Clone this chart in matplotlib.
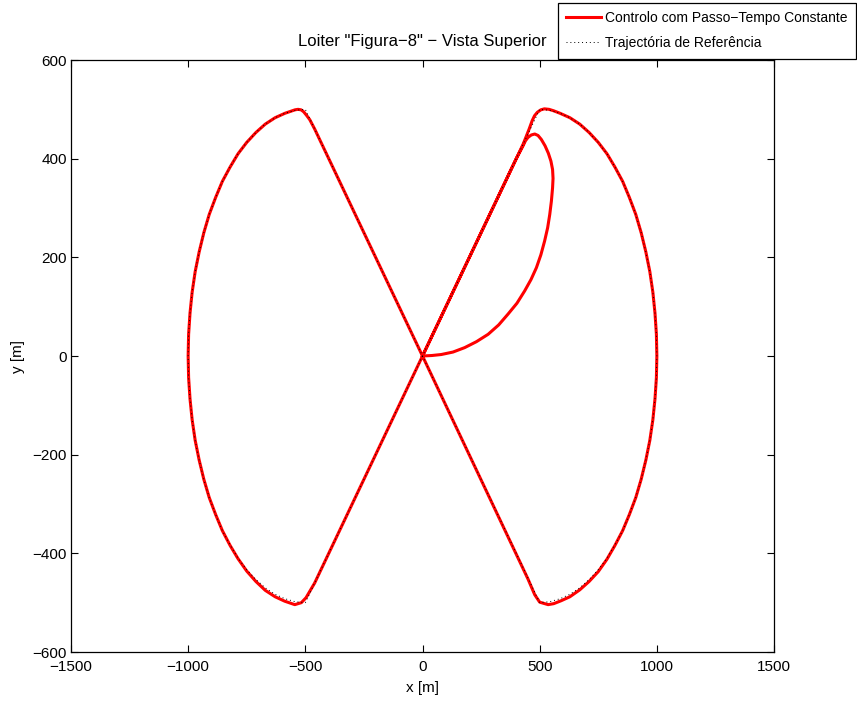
import matplotlib
matplotlib.use("Agg")
import matplotlib.pyplot as plt

plt.rcParams['font.family'] = ['Liberation Sans', 'DejaVu Sans']

arc_dx = [0, 44, 87, 129, 171, 211, 250, 287, 321, 354, 383, 410, 433, 453, 470, 483, 492, 498, 500]
arc_y = [500, 498, 492, 483, 470, 453, 433, 410, 383, 354, 321, 287, 250, 211, 171, 129, 87, 44, 0]

# trajectoria de referencia (figura-8): rectas pela origem + semicirculos laterais
ref_x = ([0] + [-500 - d for d in arc_dx] + [-500 - d for d in arc_dx[-2::-1]] + [0]
         + [500 + d for d in arc_dx] + [500 + d for d in arc_dx[-2::-1]] + [0])
ref_y = ([0] + [-v for v in arc_y] + arc_y[-2::-1] + [0]
         + [-v for v in arc_y] + arc_y[-2::-1] + [0])

# trajectoria voada (controlo com passo de tempo constante)
# transitorio inicial: sai da origem, faz o laco e junta-se a recta
tr_x = [0, 40, 80, 130, 180, 230, 280, 325, 365, 403, 436, 463, 486, 505, 521, 534,
        543, 550, 555, 557, 555, 548, 537, 523, 507, 493, 479, 464, 450, 439, 429]
tr_y = [0, 1, 3, 8, 17, 29, 44, 63, 85, 107, 132, 155, 179, 205, 233, 260,
        287, 314, 341, 360, 378, 395, 411, 426, 439, 447, 450, 448, 443, 436, 426]

# lobulo esquerdo
left_x = [400, 0, -460, -482, -497, -517, -545, -588, -629, -671, -711, -750, -787, -821,
          -854, -883, -910, -933, -953, -970, -983, -992, -998, -1000,
          -998, -992, -983, -970, -953, -933, -910, -883, -854, -821, -787, -750, -711,
          -671, -629, -587, -544, -531, -518, -507, -495, -481, -460, 0]
left_y = [400, 0, -460, -478, -490, -500, -504, -497, -488, -475, -457, -436, -411, -384,
          -354, -321, -287, -250, -211, -171, -129, -87, -44, 0,
          44, 87, 129, 171, 211, 250, 287, 321, 354, 383, 410, 433, 453,
          470, 483, 492, 499, 500, 499, 495, 488, 479, 460, 0]

# lobulo direito
right_x = [0, 450, 479, 500, 536, 560, 592, 629, 671, 711, 750, 787, 821,
           854, 883, 910, 933, 953, 970, 983, 992, 998, 1000,
           998, 992, 983, 970, 953, 933, 910, 883, 854, 821, 787, 750, 711,
           671, 629, 587, 560, 540, 520, 505, 490, 478, 468, 455, 430, 0]
right_y = [0, -452, -484, -499, -504, -502, -496, -488, -474, -457, -437, -412, -384,
           -354, -321, -287, -250, -211, -171, -129, -87, -44, 0,
           44, 87, 129, 171, 211, 250, 287, 321, 354, 383, 410, 433, 453,
           470, 483, 492, 497, 500, 501, 499, 494, 487, 477, 460, 430, 0]

fly_x = tr_x + left_x + right_x
fly_y = tr_y + left_y + right_y

fig = plt.figure(figsize=(8.57, 7.01), dpi=100)
ax = fig.add_axes([0.0828, 0.0699, 0.8204, 0.8445])

h1, = ax.plot(fly_x, fly_y, color='red', linewidth=2.2, solid_joinstyle='round',
              label='Controlo com Passo\u2212Tempo Constante')
h2, = ax.plot(ref_x, ref_y, color='black', linewidth=0.7, linestyle=(0, (1, 3)),
              label='Trajectória de Referência')

ax.set_xlim(-1500, 1500)
ax.set_ylim(-600, 600)
ax.set_xticks(range(-1500, 1501, 500))
ax.set_yticks(range(-600, 601, 200))
ax.tick_params(direction='in', length=5, width=0.8, top=True, right=True,
               labelsize=11)
ax.tick_params(axis='x', pad=6)
ax.tick_params(axis='y', pad=3)
for s in ax.spines.values():
    s.set_linewidth(0.9)

ax.set_xlabel('x [m]', fontsize=11, labelpad=5)
ax.set_ylabel('y [m]', fontsize=11, labelpad=5)
ax.set_title('Loiter "Figura\u22128" \u2212 Vista Superior', fontsize=12, pad=10)

leg = fig.legend(handles=[h1, h2], loc='upper right', bbox_to_anchor=(0.999, 0.996),
                 fontsize=10, fancybox=False, framealpha=1, edgecolor='black',
                 borderpad=0.6, handlelength=2.5, handletextpad=0.3,
                 labelspacing=0.8, borderaxespad=0)
leg.get_frame().set_linewidth(0.9)

fig.savefig('out.png', dpi=100)
